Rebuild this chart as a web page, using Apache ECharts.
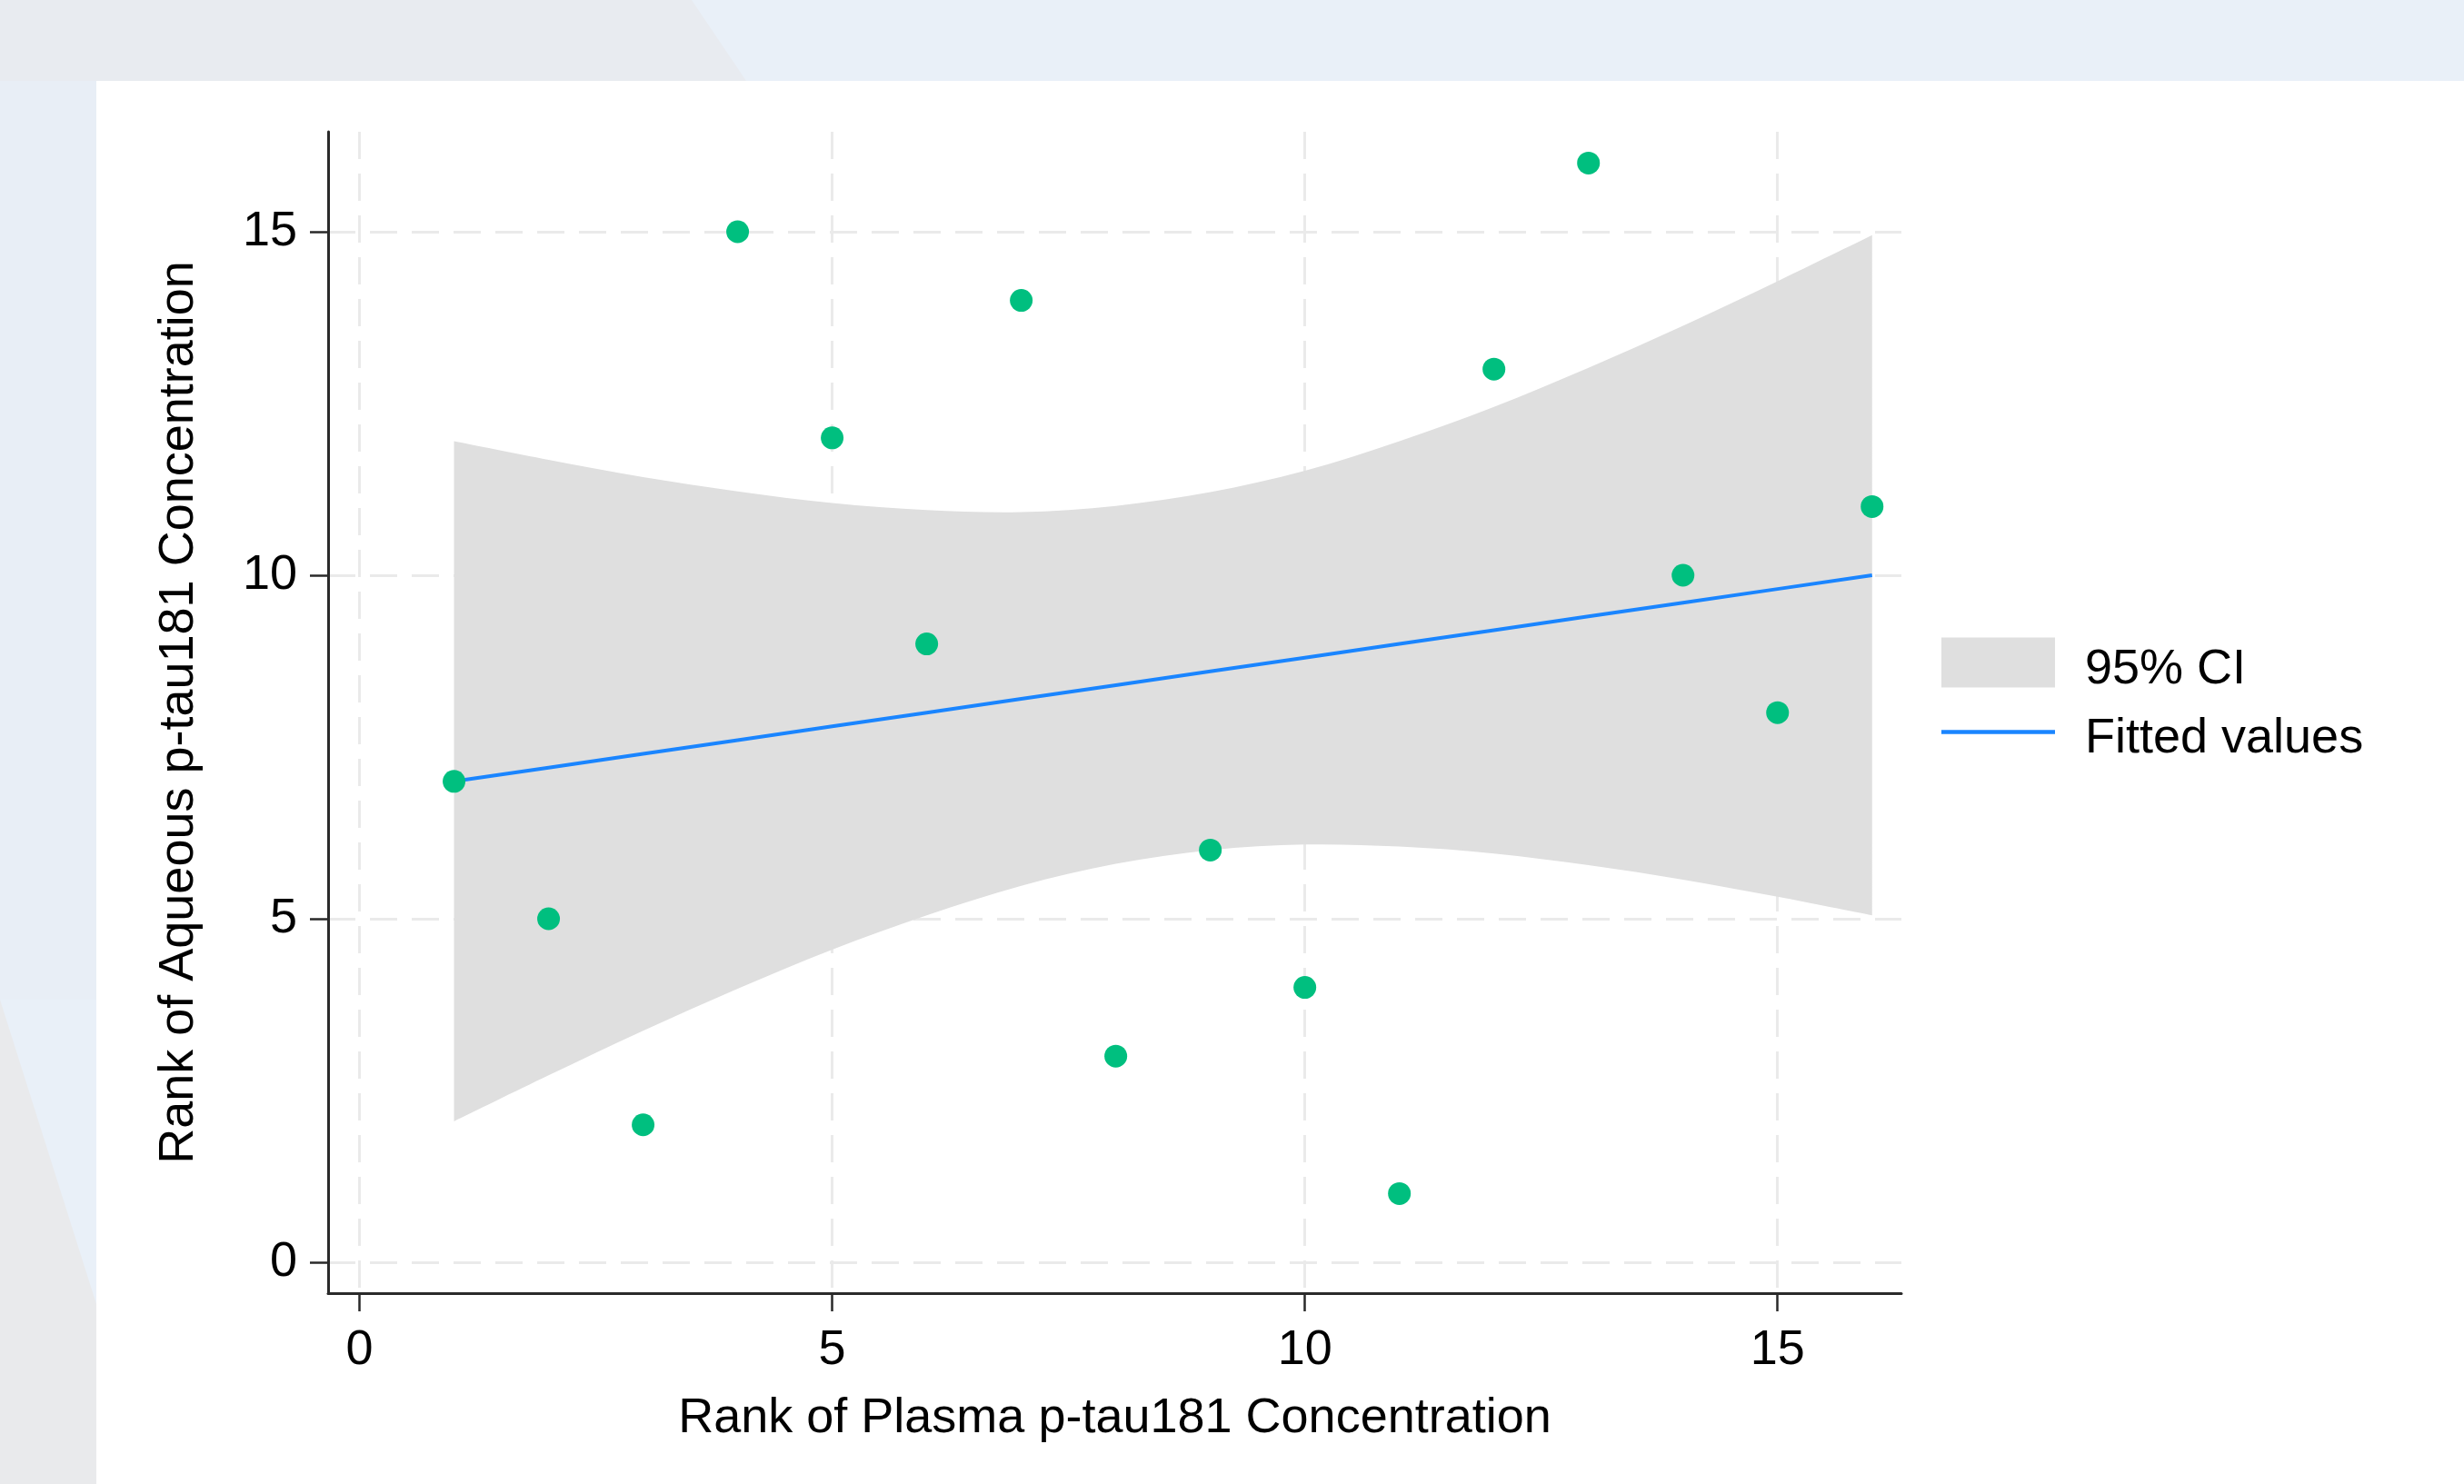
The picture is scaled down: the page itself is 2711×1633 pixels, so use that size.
<!DOCTYPE html>
<html>
<head>
<meta charset="utf-8">
<script src="https://cdn.jsdelivr.net/npm/echarts@6/dist/echarts.min.js"></script>
<style>
  html, body { margin: 0; padding: 0; width: 2711px; height: 1633px; overflow: hidden; background: #e9f0f8; }
  #bgTop { position: absolute; left: 0; top: 0; width: 900px; height: 89px; background: #e8ebf0;
           clip-path: polygon(0 0, 761px 0, 821px 89px, 0 89px); }
  #bgStrip { position: absolute; left: 0; top: 89px; width: 106px; height: 1011px; background: #e8eef6; }
  #bgLow { position: absolute; left: 0; top: 1090px; width: 106px; height: 543px; background: #e9eaec;
           clip-path: polygon(0 10px, 106px 345px, 106px 543px, 0 543px); }
  #panel { position: absolute; left: 106px; top: 89px; width: 2605px; height: 1544px; background: #ffffff; }
  #chart { position: absolute; left: 0; top: 0; width: 2711px; height: 1633px; }
</style>
</head>
<body>
<div id="bgTop"></div>
<div id="bgStrip"></div>
<div id="bgLow"></div>
<div id="panel"></div>
<div id="chart"></div>
<script>
// ---- data ----
const plasmaRank  = [1, 2, 3, 4, 5, 6, 7, 8, 9, 10, 11, 12, 13, 14, 15, 16];
const aqueousRank = [7, 5, 2, 15, 12, 9, 14, 3, 6, 4, 1, 13, 16, 10, 8, 11];

const fitX      = [1, 2, 3, 4, 5, 6, 7, 8, 9, 10, 11, 12, 13, 14, 15, 16];
const fitted    = [7.0, 7.2, 7.4, 7.6, 7.8, 8.0, 8.2, 8.4, 8.6, 8.8, 9.0, 9.2, 9.4, 9.6, 9.8, 10.0];
const ciUpper   = [11.95, 11.68, 11.43, 11.22, 11.05, 10.95, 10.92, 11.01, 11.21, 11.52, 11.95, 12.45, 13.02, 13.63, 14.28, 14.95];
const ciLower   = [2.05, 2.72, 3.37, 3.98, 4.55, 5.05, 5.48, 5.80, 6.00, 6.08, 6.05, 5.95, 5.78, 5.57, 5.32, 5.05];

const xTicks = [0, 5, 10, 15];
const yTicks = [0, 5, 10, 15];
const xRange = [-0.332, 16.31];
const yRange = [-0.45, 16.455];

const xTitle = 'Rank of Plasma p-tau181 Concentration';
const yTitle = 'Rank of Aqueous p-tau181 Concentration';
const ciName = '95% CI';
const fitName = 'Fitted values';

// ---- build options ----
const FONT = '"Liberation Sans", Arial, Helvetica, sans-serif';
const FS = 54;
const pts = plasmaRank.map((x, i) => [x, aqueousRank[i]]);
const fitPts = fitX.map((x, i) => [x, fitted[i]]);

// Catmull-Rom spline through pixel points -> SVG path commands (continuing an existing path)
function splineSegs(p) {
  let d = '';
  for (let i = 0; i < p.length - 1; i++) {
    const p0 = p[i - 1] || p[i], p1 = p[i], p2 = p[i + 1], p3 = p[i + 2] || p[i + 1];
    const c1 = [p1[0] + (p2[0] - p0[0]) / 6, p1[1] + (p2[1] - p0[1]) / 6];
    const c2 = [p2[0] - (p3[0] - p1[0]) / 6, p2[1] - (p3[1] - p1[1]) / 6];
    d += ' C' + c1[0] + ',' + c1[1] + ' ' + c2[0] + ',' + c2[1] + ' ' + p2[0] + ',' + p2[1];
  }
  return d;
}

function renderBand(params, api) {
  if (params.dataIndex !== 0) return null;
  const up = fitX.map((x, i) => api.coord([x, ciUpper[i]]));
  const lo = fitX.map((x, i) => api.coord([x, ciLower[i]])).reverse();
  let d = 'M' + up[0][0] + ',' + up[0][1] + splineSegs(up);
  d += ' L' + lo[0][0] + ',' + lo[0][1] + splineSegs(lo) + ' Z';
  return {
    type: 'path',
    shape: { pathData: d },
    style: { fill: '#dfdfdf', stroke: null }
  };
}

const gridLine = { show: true, lineStyle: { color: '#eaeaea', width: 3, type: [30, 16] } };

const chart = echarts.init(document.getElementById('chart'), null, { renderer: 'canvas' });
chart.setOption({
  animation: false,
  backgroundColor: 'transparent',
  textStyle: { fontFamily: FONT },
  grid: { left: 361, top: 145, width: 1731, height: 1278, containLabel: false },
  xAxis: {
    type: 'value', min: xRange[0], max: xRange[1],
    name: xTitle, nameLocation: 'middle', nameGap: 111,
    nameTextStyle: { fontSize: FS, color: '#000', fontFamily: FONT },
    axisLine: { show: true, onZero: false, lineStyle: { color: '#2a2a2a', width: 3 } },
    axisTick: { show: true, customValues: xTicks, length: 20, lineStyle: { color: '#2a2a2a', width: 2.5 } },
    axisLabel: { customValues: xTicks, fontSize: FS, color: '#000', margin: 36, fontFamily: FONT },
    splitLine: gridLine
  },
  yAxis: {
    type: 'value', min: yRange[0], max: yRange[1],
    name: yTitle, nameLocation: 'middle', nameGap: 137, nameRotate: 90,
    nameTextStyle: { fontSize: FS, color: '#000', fontFamily: FONT },
    axisLine: { show: true, onZero: false, lineStyle: { color: '#2a2a2a', width: 3 } },
    axisTick: { show: true, customValues: yTicks, length: 20, lineStyle: { color: '#2a2a2a', width: 2.5 } },
    axisLabel: { customValues: yTicks, fontSize: FS, color: '#000', margin: 34, fontFamily: FONT },
    splitLine: gridLine
  },
  legend: {
    orient: 'vertical', left: 2136, top: 694, padding: 0,
    itemWidth: 125, itemHeight: 55, itemGap: 6.5,
    formatter: '{s|}{t|{name}}',
    textStyle: {
      fontSize: FS, color: '#000', fontFamily: FONT, padding: [0, 0, 0, 28],
      rich: {
        s: { width: 0, height: 70, lineHeight: 70, fontSize: FS },
        t: { fontSize: FS, color: '#000', fontFamily: FONT, lineHeight: 54, verticalAlign: 'bottom' }
      }
    },
    data: [
      { name: ciName, icon: 'rect', itemStyle: { color: '#dfdfdf', borderWidth: 0 } },
      { name: fitName, icon: 'path://M0,0H125V4.5H0Z', itemStyle: { color: '#1a85ff', borderWidth: 0 } }
    ],
    selectedMode: false
  },
  series: [
    {
      name: ciName, type: 'custom', renderItem: renderBand,
      data: fitX.map((x, i) => [x, ciLower[i], ciUpper[i]]),
      encode: { x: 0, y: [1, 2] },
      itemStyle: { color: '#dfdfdf' }, z: 1, silent: true, clip: true
    },
    {
      name: fitName, type: 'line', data: fitPts, symbol: 'none',
      lineStyle: { color: '#1a85ff', width: 4 }, itemStyle: { color: '#1a85ff' }, z: 3, silent: true
    },
    {
      name: 'points', type: 'scatter', data: pts, symbolSize: 25,
      itemStyle: { color: '#00bf7f', opacity: 1 }, z: 4, silent: true
    }
  ]
});
</script>
</body>
</html>
